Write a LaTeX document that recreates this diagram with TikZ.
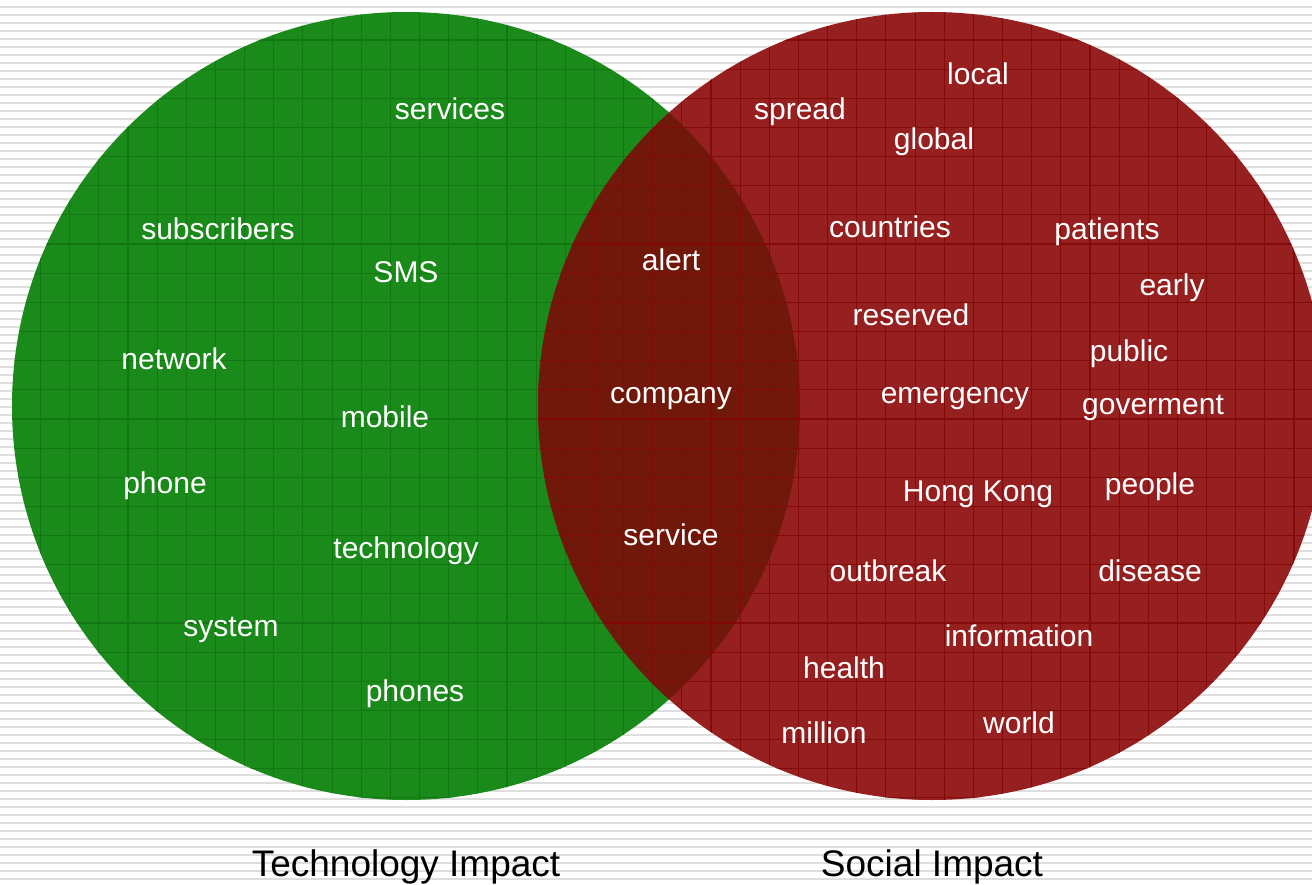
\documentclass[tikz,border=0pt]{standalone}
\usepackage{fontspec}
\setmainfont{Liberation Sans}
\usetikzlibrary{positioning}
\definecolor{techgreen}{RGB}{26,138,26}
\definecolor{techgrid}{RGB}{18,118,18}
\definecolor{socred}{RGB}{150,32,32}
\definecolor{socgrid}{RGB}{132,10,10}
\definecolor{bothred}{RGB}{112,24,10}
\definecolor{bothgrid}{RGB}{132,8,8}
\definecolor{stripe}{RGB}{222,222,222}
\tikzset{
  word/.style={text=white, inner sep=0pt, text height=22pt, text depth=6pt, yshift=-3pt, font=\fontsize{30}{36}\selectfont},
  caption/.style={text=black, inner sep=0pt, text height=27pt, text depth=7pt, yshift=-2pt, font=\fontsize{37}{44}\selectfont},
  gridline/.style={line width=1.1pt}
}
\newcommand{\vgrid}[1]{%
  \foreach \k in {0,...,45} {
    \draw[gridline, #1] (11.4+29.15*\k,0) -- (11.4+29.15*\k,820);
  }
  \foreach \k in {0,...,28} {
    \draw[gridline, #1] (0,10.85+29.15*\k) -- (1340,10.85+29.15*\k);
  }
}

\begin{document}
\begin{tikzpicture}[x=1pt, y=-1pt]

\useasboundingbox (0,0) rectangle (1312,885);

% striped background
\fill[white] (0,0) rectangle (1312,885);
\foreach \k in {0,...,110} {
  \fill[stripe] (0,5.7+8*\k) rectangle (1312,7.7+8*\k);
}

% Technology circle
\fill[techgreen] (406,406) circle (394);
\begin{scope}
  \clip (406,406) circle (394);
  \vgrid{techgrid}
\end{scope}

% Social circle
\fill[socred] (932,406) circle (394);
\begin{scope}
  \clip (932,406) circle (394);
  \vgrid{socgrid}
\end{scope}

% overlap
\begin{scope}
  \clip (406,406) circle (394);
  \fill[bothred] (932,406) circle (394);
  \clip (932,406) circle (394);
  \vgrid{bothgrid}
\end{scope}

% technology words
\node[word] (services) at (450,109) {services};
\node[word] (subscribers) at (218,229) {subscribers};
\node[word] (sms) at (406,272) {SMS};
\node[word] (network) at (174,359) {network};
\node[word] (mobile) at (385,416) {mobile};
\node[word] (phone) at (165,482) {phone};
\node[word] (technology) at (406,547) {technology};
\node[word] (system) at (231,625) {system};
\node[word] (phones) at (415,690) {phones};

% shared words
\node[word] (alert) at (671,260) {alert};
\node[word] (company) at (671,392) {company};
\node[word] (service) at (671,534) {service};

% social words
\node[word] (local) at (978,74) {local};
\node[word] (spread) at (800,109) {spread};
\node[word] (global) at (934,139) {global};
\node[word] (countries) at (890,227) {countries};
\node[word] (patients) at (1107,229) {patients};
\node[word] (early) at (1172,285) {early};
\node[word] (reserved) at (911,315) {reserved};
\node[word] (public) at (1129,350) {public};
\node[word] (emergency) at (955,392) {emergency};
\node[word] (goverment) at (1153,403) {goverment};
\node[word] (hongkong) at (978,490) {Hong Kong};
\node[word] (people) at (1150,483) {people};
\node[word] (outbreak) at (888,570) {outbreak};
\node[word] (disease) at (1150,570) {disease};
\node[word] (information) at (1019,635) {information};
\node[word] (health) at (844,667) {health};
\node[word] (million) at (824,732) {million};
\node[word] (world) at (1019,722) {world};

% captions
\node[caption] (techcap) at (406,864) {Technology Impact};
\node[caption] (soccap) at (932,864) {Social Impact};

\end{tikzpicture}
\end{document}
